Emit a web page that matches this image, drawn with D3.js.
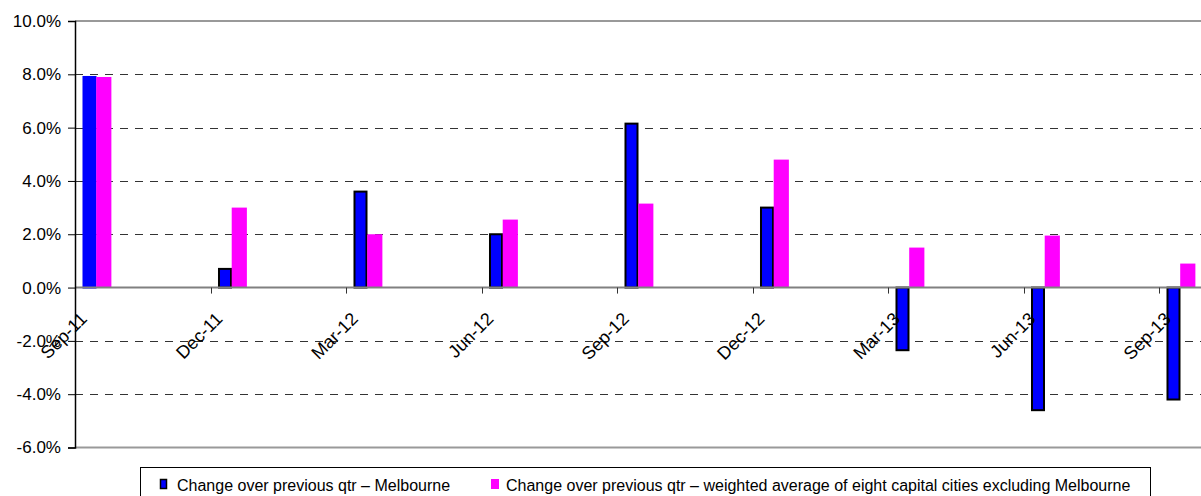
<!DOCTYPE html>
<html>
<head>
<meta charset="utf-8">
<script src="https://cdn.jsdelivr.net/npm/d3@7"></script>
<style>
  html, body { margin: 0; padding: 0; background: #fff; }
  svg { display: block; font-family: "Liberation Sans", Arial, sans-serif; }
</style>
</head>
<body>
<svg id="chart" width="1201" height="496"></svg>
<script>
// ---- data ----
const categories = ["Sep-11", "Dec-11", "Mar-12", "Jun-12", "Sep-12", "Dec-12", "Mar-13", "Jun-13", "Sep-13"];
const melbourne = [7.9, 0.7, 3.6, 2.0, 6.15, 3.0, -2.35, -4.6, -4.2];
const eightCities = [7.9, 3.0, 2.0, 2.55, 3.15, 4.8, 1.5, 1.95, 0.9];
const yTicks = [-6, -4, -2, 0, 2, 4, 6, 8, 10];
const seriesNames = [
  "Change over previous qtr \u2013 Melbourne",
  "Change over previous qtr \u2013 weighted average of eight capital cities excluding Melbourne"
];

// ---- layout ----
const svg = d3.select("#chart");
const plotLeft = 75, plotTop = 21, plotBottom = 447.5;
const band = 135.5;

const x = d3.scaleBand().domain(categories)
  .range([plotLeft, plotLeft + band * categories.length]).paddingInner(0).paddingOuter(0);
const y = d3.scaleLinear().domain([-6, 10]).range([plotBottom, plotTop]);
const bw = x.bandwidth();

// gridlines (dashed)
svg.append("g").selectAll("line")
  .data(yTicks.filter(d => d !== 0 && d !== 10 && d !== -6))
  .join("line")
  .attr("x1", plotLeft).attr("x2", 1201)
  .attr("y1", d => Math.round(y(d)) + 0.5).attr("y2", d => Math.round(y(d)) + 0.5)
  .attr("stroke", "#333").attr("stroke-width", 1)
  .attr("stroke-dasharray", "8,7");

// top & bottom plot border (gray)
[10, -6].forEach(v => {
  svg.append("line")
    .attr("x1", plotLeft).attr("x2", 1201)
    .attr("y1", y(v)).attr("y2", y(v))
    .attr("stroke", "#999").attr("stroke-width", 2);
});

// bars: Melbourne
svg.append("g").selectAll("rect")
  .data(melbourne)
  .join("rect")
  .attr("x", (d, i) => x(categories[i]) + bw * 0.0627)
  .attr("width", bw * 0.0886)
  .attr("y", d => y(Math.max(0, d)))
  .attr("height", d => Math.abs(y(d) - y(0)))
  .attr("fill", "#0000ff")
  .attr("stroke", (d, i) => i === 0 ? "#0000ff" : "#000")
  .attr("stroke-width", 2);

// bars: eight capital cities
svg.append("g").selectAll("rect")
  .data(eightCities)
  .join("rect")
  .attr("x", (d, i) => x(categories[i]) + bw * 0.1565)
  .attr("width", bw * 0.112)
  .attr("y", d => y(Math.max(0, d)))
  .attr("height", d => Math.abs(y(d) - y(0)))
  .attr("fill", "#ff00ff");

// zero (category) axis line
svg.append("line")
  .attr("x1", plotLeft).attr("x2", 1201)
  .attr("y1", y(0)).attr("y2", y(0))
  .attr("stroke", "#808080").attr("stroke-width", 2);

// category ticks
svg.append("g").selectAll("line")
  .data(categories.slice(1))
  .join("line")
  .attr("x1", d => Math.round(x(d)) + 0.5).attr("x2", d => Math.round(x(d)) + 0.5)
  .attr("y1", y(0)).attr("y2", y(0) + 6)
  .attr("stroke", "#333").attr("stroke-width", 1);

// category labels (rotated)
svg.append("g").selectAll("text")
  .data(categories)
  .join("text")
  .attr("transform", d => `translate(${x(d) + 13},320) rotate(-45)`)
  .attr("text-anchor", "end")
  .attr("font-size", 18)
  .attr("fill", "#000")
  .text(d => d);

// value axis
const yAxis = d3.axisLeft(y).tickValues(yTicks)
  .tickFormat(d => d.toFixed(1) + "%")
  .tickSize(7).tickPadding(7);
const ga = svg.append("g").attr("transform", `translate(${plotLeft},0)`).call(yAxis);
ga.select(".domain").attr("stroke", "#000").attr("stroke-width", 1.5);
ga.selectAll(".tick line").attr("stroke", "#000");
ga.selectAll(".tick text")
  .attr("font-size", 17).attr("font-family", "Liberation Sans, Arial, sans-serif")
  .attr("fill", "#000");

// legend
const lg = svg.append("g");
lg.append("rect")
  .attr("x", 140.5).attr("y", 467.5).attr("width", 1010).attr("height", 40)
  .attr("fill", "#fff").attr("stroke", "#000").attr("stroke-width", 1);
lg.append("rect")
  .attr("x", 160.5).attr("y", 479.5).attr("width", 6).attr("height", 9)
  .attr("fill", "#0000ff").attr("stroke", "#000").attr("stroke-width", 1.5);
lg.append("text")
  .attr("x", 177).attr("y", 491).attr("font-size", 16).attr("fill", "#000")
  .text(seriesNames[0]);
lg.append("rect")
  .attr("x", 491).attr("y", 479).attr("width", 8).attr("height", 10)
  .attr("fill", "#ff00ff");
lg.append("text")
  .attr("x", 506).attr("y", 491).attr("font-size", 16).attr("fill", "#000")
  .text(seriesNames[1]);
</script>
</body>
</html>
